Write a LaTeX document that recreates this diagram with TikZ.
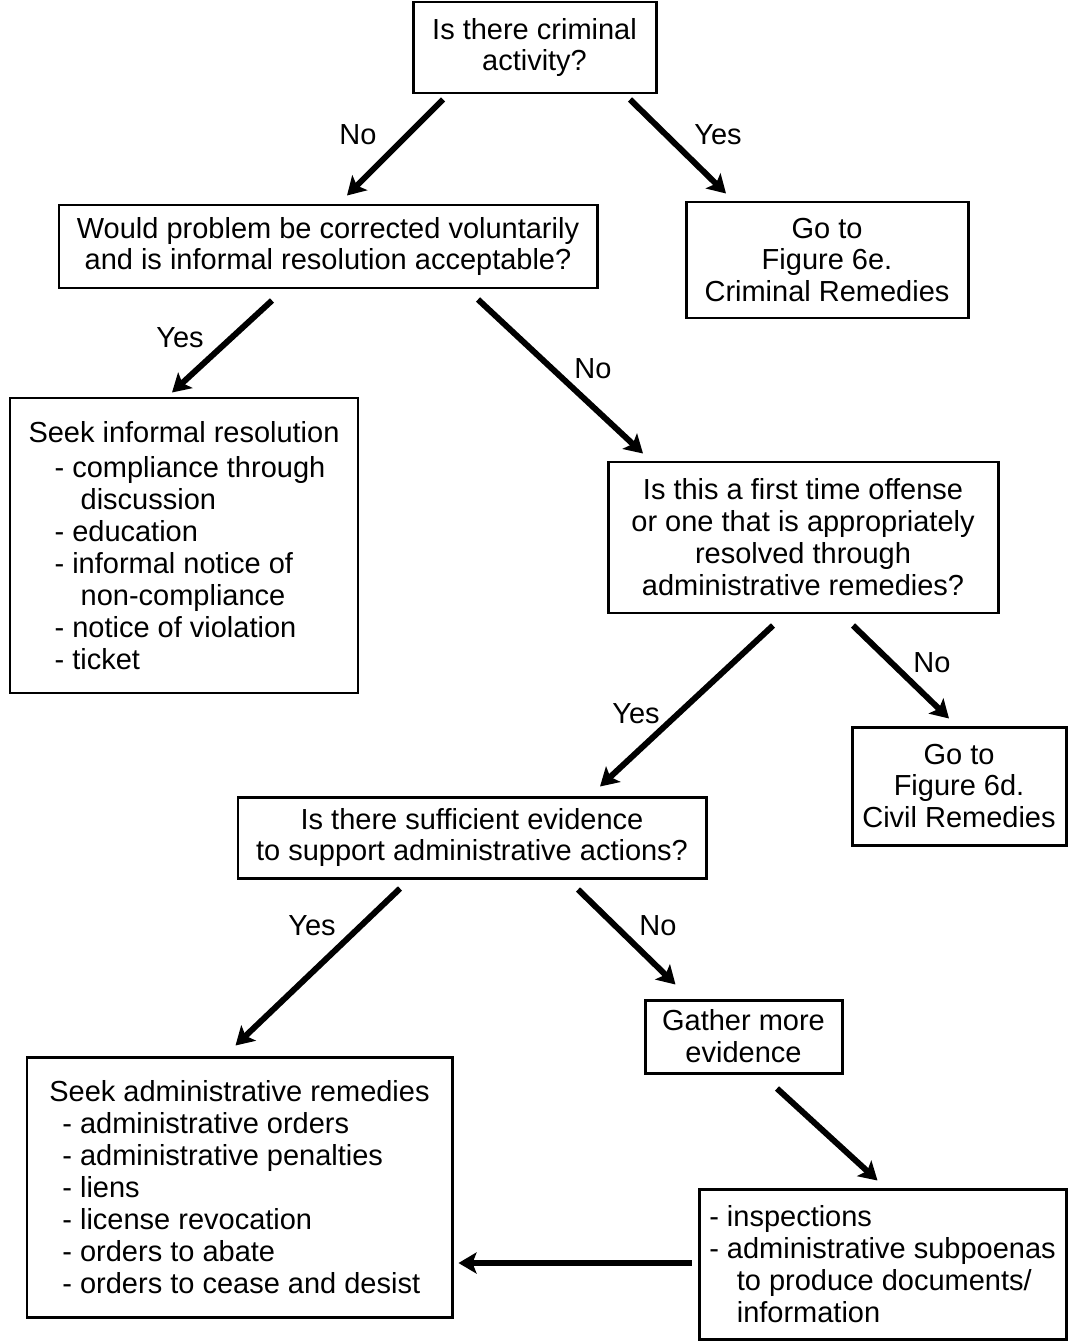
\documentclass[tikz,border=0pt]{standalone}
\usepackage{fontspec}
\setmainfont{Liberation Sans}
\usetikzlibrary{arrows.meta, calc}

\begin{document}
\begin{tikzpicture}[
  x=0.02cm, y=-0.02cm,
  font=\fontsize{16.5}{18.2}\selectfont,
  box/.style={rectangle, draw, line width=1.7pt, align=center, inner sep=0pt},
  listbox/.style={box, align=left},
  arr/.style={-{Stealth[length=0.36cm, width=0.42cm, inset=0.08cm]}, line width=3.4pt},
  lbl/.style={inner sep=0pt}
]
  \useasboundingbox (0,0) rectangle (1068,1341);

  \node[box, minimum width=243*0.02cm, minimum height=91*0.02cm] (crim) at (534.5,47.5)
    {Is there criminal\\activity?};
  \node[box, minimum width=538*0.02cm, minimum height=83*0.02cm] (vol) at (328,246.5)
    {Would problem be corrected voluntarily\\and is informal resolution acceptable?};
  \node[box, minimum width=282*0.02cm, minimum height=116*0.02cm] (crimrem) at (827,260)
    {Go to\\Figure 6e.\\Criminal Remedies};
  \node[listbox, minimum width=348*0.02cm, minimum height=295*0.02cm] (inform) at (184,545.5)
    {Seek informal resolution\\[2pt]
     \hspace*{0.9em}- compliance through\\
     \hspace*{1.8em}discussion\\
     \hspace*{0.9em}- education\\
     \hspace*{0.9em}- informal notice of\\
     \hspace*{1.8em}non-compliance\\
     \hspace*{0.9em}- notice of violation\\
     \hspace*{0.9em}- ticket};
  \node[box, minimum width=390*0.02cm, minimum height=151*0.02cm] (first) at (803,537.5)
    {Is this a first time offense\\or one that is appropriately\\resolved through\\administrative remedies?};
  \node[box, minimum width=214*0.02cm, minimum height=118*0.02cm] (civrem) at (959,786)
    {Go to\\Figure 6d.\\Civil Remedies};
  \node[box, minimum width=468*0.02cm, minimum height=81*0.02cm] (suff) at (472,837.5)
    {Is there sufficient evidence\\to support administrative actions?};
  \node[box, minimum width=197*0.02cm, minimum height=73*0.02cm] (gather) at (743.5,1036.5)
    {Gather more\\evidence};
  \node[listbox, minimum width=425*0.02cm, minimum height=260*0.02cm] (admrem) at (239.5,1187)
    {Seek administrative remedies\\
     \hspace*{0.45em}- administrative orders\\
     \hspace*{0.45em}- administrative penalties\\
     \hspace*{0.45em}- liens\\
     \hspace*{0.45em}- license revocation\\
     \hspace*{0.45em}- orders to abate\\
     \hspace*{0.45em}- orders to cease and desist};
  \node[listbox, minimum width=367*0.02cm, minimum height=150*0.02cm] (insp) at (882.5,1264)
    {- inspections\\
     - administrative subpoenas\\
     \hspace*{0.95em}to produce documents/\\
     \hspace*{0.95em}information};

  % connectors
  \draw[arr] ($(crim.south)+(-91.5,5)$) -- ($(vol.north)+(19,-8)$);
  \draw[arr] ($(crim.south)+(95.5,5)$) -- ($(crimrem.north)+(-101,-7)$);
  \draw[arr] ($(vol.south)+(-56,11)$) -- ($(inform.north)+(-12,-4)$);
  \draw[arr] ($(vol.south)+(150,10)$) -- ($(first.north)+(-160,-7)$);
  \draw[arr] ($(first.south)+(-30,11)$) -- ($(suff.north)+(128,-9)$);
  \draw[arr] ($(first.south)+(50,11)$) -- ($(civrem.north)+(-10,-7)$);
  \draw[arr] ($(suff.south)+(-72,9)$) -- ($(admrem.north)+(-4,-10)$);
  \draw[arr] ($(suff.south)+(106,10)$) -- ($(gather.north)+(-68,-14)$);
  \draw[arr] ($(gather.south)+(33.5,14)$) -- ($(insp.north)+(-5,-7)$);
  \draw[arr] ($(insp.west)+(-6,-1)$) -- ($(admrem.east|-insp.west)+(5,-1)$);

  % branch labels
  \node[lbl] (l1) at (358,135) {No};
  \node[lbl] (l2) at (718,135) {Yes};
  \node[lbl] (l3) at (180,338) {Yes};
  \node[lbl] (l4) at (593,369) {No};
  \node[lbl] (l5) at (636,714) {Yes};
  \node[lbl] (l6) at (932,663) {No};
  \node[lbl] (l7) at (312,926) {Yes};
  \node[lbl] (l8) at (658,926) {No};
\end{tikzpicture}
\end{document}
